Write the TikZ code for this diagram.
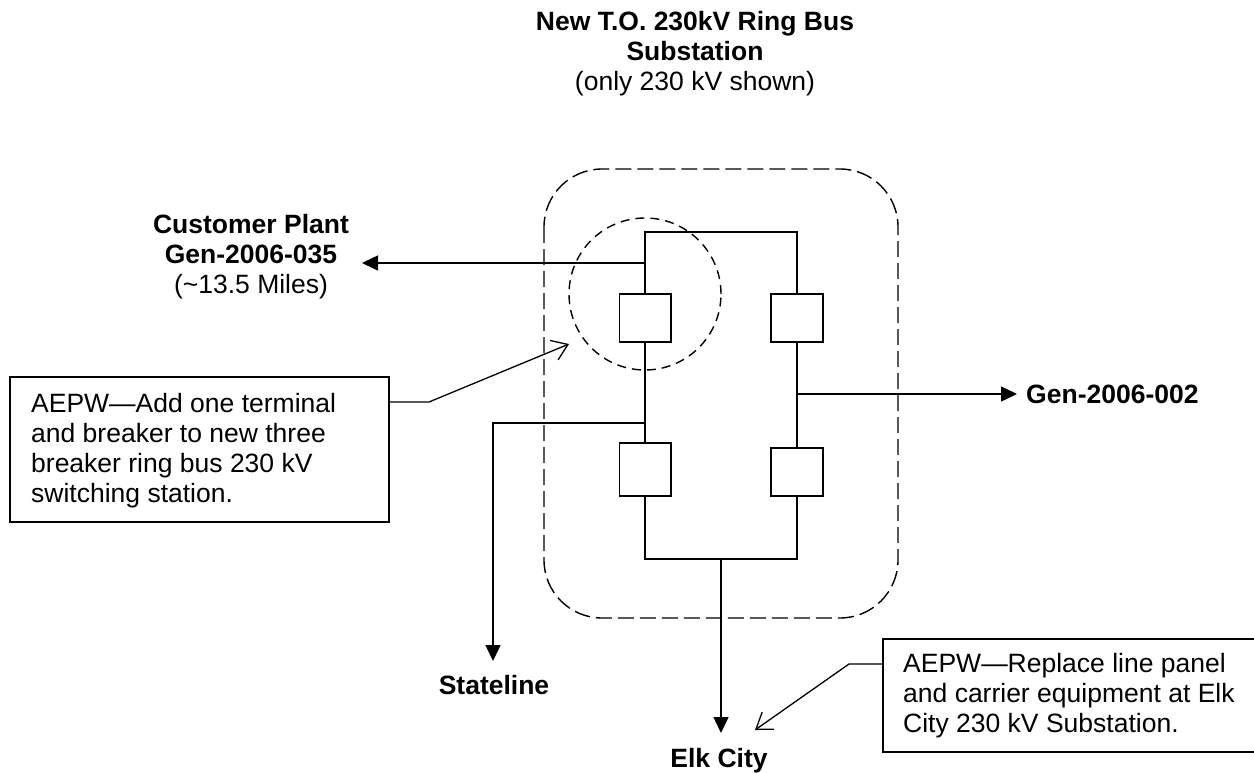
\documentclass[tikz,border=0pt]{standalone}
\usepackage{fontspec}
\setmainfont{Liberation Sans}
\usetikzlibrary{arrows.meta}
\tikzset{
  x=1pt,y=-1pt,
  line/.style={draw=black,line width=1.5pt},
  brk/.style={line,fill=white,inner sep=0pt},
  feed/.style={line,-{Triangle[length=16pt,width=15pt]}},
  lead/.style={draw=black,line width=1.3pt,-{Straight Barb[length=15pt,width=21pt,line width=1.3pt]}},
  note/.style={line,fill=white},
  txt/.style={font=\fontsize{26.5}{30}\selectfont,align=center,inner sep=0pt},
  notetxt/.style={font=\fontsize{26.5}{30}\selectfont,align=left,inner sep=0pt},
  zone/.style={draw=black,line width=1.4pt,dash pattern=on 16pt off 6pt,rounded corners=58pt},
  circ/.style={draw=black,line width=1.4pt,dash pattern=on 9pt off 6pt}
}
\begin{document}
\begin{tikzpicture}
\useasboundingbox (0,0) rectangle (1254,773);
\clip (0,0) rectangle (1254,773);
\fill[white] (0,0) rectangle (1254,773);
% zone
\draw[zone] (544,169) rectangle (898,618);
% ring
\coordinate (tl) at (645,232); \coordinate (tr) at (797,232);
\coordinate (bl) at (645,559); \coordinate (br) at (797,559);
\draw[line] (tl) -- (tr) -- (br) -- (bl) -- cycle;
\draw[brk] (619.5,294) rectangle (671,342);
\draw[brk] (771,294) rectangle (823,342);
\draw[brk] (619.5,443) rectangle (671,496);
\draw[brk] (771,448) rectangle (823,496);
\node[circle,circ,minimum size=152pt,inner sep=0pt] (sel) at (645,294) {};
% labels
\node[txt] (title) at (695,54) {\textbf{New T.O. 230kV Ring Bus}\\\textbf{Substation}\\(only 230 kV shown)};
\node[txt] (cust) at (251,257) {\textbf{Customer Plant}\\\textbf{Gen-2006-035}\\(\textasciitilde13.5 Miles)};
\node[txt,anchor=base west] (gen) at (1026,403) {\textbf{Gen-2006-002}};
\node[txt,anchor=base] (state) at (494,694) {\textbf{Stateline}};
\node[txt,anchor=base] (elk) at (719,767) {\textbf{Elk City}};
% feeders
\coordinate (jc) at (645,263); \coordinate (jg) at (797,394);
\coordinate (js) at (645,423); \coordinate (je) at (721,559);
\draw[feed] (jc) -- (362,263);
\draw[feed] (jg) -- (1017,394);
\draw[feed] (js) -- (493,423) -- (493,661);
\draw[feed] (je) -- (721,733);
% notes
\draw[note] (10,377) rectangle (389,522);
\node[notetxt,anchor=west] (n1t) at (31,450.5) {AEPW—Add one terminal\\and breaker to new three\\breaker ring bus 230 kV\\switching station.};
\draw[note] (883,639) rectangle (1270,752);
\node[notetxt,anchor=west] (n2t) at (903,696) {AEPW—Replace line panel\\and carrier equipment at Elk\\City 230 kV Substation.};
\coordinate (a1) at (429,402); \coordinate (e1) at (569,344);
\coordinate (a2) at (849,664); \coordinate (e2) at (755,730);
\draw[lead] (389,402) -- (a1) -- (e1);
\draw[lead] (883,664) -- (a2) -- (e2);
\end{tikzpicture}
\end{document}
